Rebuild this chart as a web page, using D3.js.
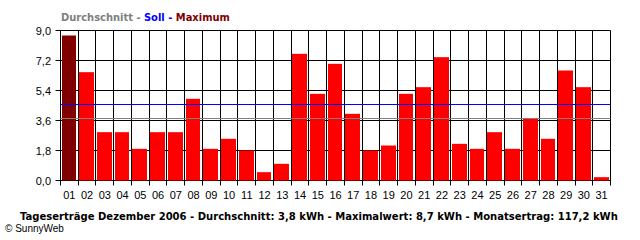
<!DOCTYPE html>
<html><head><meta charset="utf-8">
<script src="https://cdn.jsdelivr.net/npm/d3@7"></script>
<style>body{margin:0;background:#fff;}svg{display:block;}</style>
</head><body>
<script>
const days = ["01","02","03","04","05","06","07","08","09","10","11","12","13","14","15","16","17","18","19","20","21","22","23","24","25","26","27","28","29","30","31"];
const values = [8.7,6.5,2.9,2.9,1.9,2.9,2.9,4.9,1.9,2.5,1.8,0.5,1.0,7.6,5.2,7.0,4.0,1.8,2.1,5.2,5.6,7.4,2.2,1.9,2.9,1.9,3.7,2.5,6.6,5.6,0.2];
const yTicks = [0, 1.8, 3.6, 5.4, 7.2, 9.0];
const avgValue = 3.78;
const sollValue = 4.6;
const legendItems = ["Durchschnitt", "Soll", "Maximum"];
const footer = "Tageserträge Dezember 2006 - Durchschnitt: 3,8 kWh - Maximalwert: 8,7 kWh - Monatsertrag: 117,2 kWh";

(function () {
const W = 640, H = 240;
const svg = d3.select("body").append("svg").attr("width", W).attr("height", H);
const mLeft = 60.5, mRight = 610.5, mTop = 30.5, mBottom = 180.5;

const xb = d3.scaleBand().domain(days).range([mLeft, mRight]);
const y = d3.scaleLinear().domain([0, 9]).range([mBottom, mTop]);

function fit(sel, target) {
  const s = +sel.attr("font-size");
  const w = sel.node().getComputedTextLength();
  sel.attr("font-size", (s * target / w).toFixed(2));
}

// grid horizontal
svg.append("g").selectAll("line").data(yTicks).join("line")
  .attr("x1", mLeft - 5).attr("x2", mRight)
  .attr("y1", d => y(d)).attr("y2", d => y(d))
  .attr("stroke", "#000").attr("stroke-width", 1);
// grid vertical (band boundaries)
const bounds = days.map(d => xb(d)).concat([mRight]);
svg.append("g").selectAll("line").data(bounds).join("line")
  .attr("x1", d => Math.round(d - 0.5) + 0.5).attr("x2", d => Math.round(d - 0.5) + 0.5)
  .attr("y1", mTop).attr("y2", mBottom + 5)
  .attr("stroke", "#000").attr("stroke-width", 1);

const maxV = d3.max(values);
svg.append("g").selectAll("rect").data(values).join("rect")
  .attr("x", (d, i) => Math.round(xb(days[i])) + 1)
  .attr("width", (d, i) => Math.round(xb(days[i]) + xb.bandwidth()) - Math.round(xb(days[i])) - 3)
  .attr("y", d => y(d))
  .attr("height", d => y(0) - y(d))
  .attr("fill", d => d === maxV ? "#800000" : "#ff0000");

// reference lines
svg.append("line").attr("x1", mLeft).attr("x2", mRight)
  .attr("y1", Math.round(y(sollValue)) + 0.5).attr("y2", Math.round(y(sollValue)) + 0.5)
  .attr("stroke", "#0000ff").attr("stroke-width", 1);
svg.append("line").attr("x1", mLeft).attr("x2", mRight)
  .attr("y1", Math.round(y(avgValue)) + 0.5).attr("y2", Math.round(y(avgValue)) + 0.5)
  .attr("stroke", "#808080").attr("stroke-width", 1);

// y labels
svg.append("g").selectAll("text").data(yTicks).join("text")
  .attr("x", 51).attr("y", d => y(d) + 4)
  .attr("text-anchor", "end")
  .attr("font-family", "Liberation Sans, Arial, sans-serif").attr("font-size", 11)
  .text(d => d3.format(".1f")(d).replace(".", ","));
// x labels
svg.append("g").selectAll("text").data(days).join("text")
  .attr("x", d => xb(d) + xb.bandwidth() / 2).attr("y", 199)
  .attr("text-anchor", "middle")
  .attr("font-family", "Liberation Sans, Arial, sans-serif").attr("font-size", 11)
  .text(d => d);

// legend
const leg = svg.append("text").attr("x", 61).attr("y", 21)
  .attr("font-family", "DejaVu Sans, Verdana, sans-serif").attr("font-weight", "bold").attr("font-size", 11.5);
leg.append("tspan").attr("fill", "#808080").text(legendItems[0] + " - ");
leg.append("tspan").attr("fill", "#0000ff").text(legendItems[1] + " - ");
leg.append("tspan").attr("fill", "#800000").text(legendItems[2]);
fit(leg, 169);

// footer
const ft = svg.append("text").attr("x", 20).attr("y", 220)
  .attr("font-family", "DejaVu Sans, Verdana, sans-serif").attr("font-weight", "bold").attr("font-size", 11)
  .text(footer);
fit(ft, 598);
svg.append("text").attr("x", 5).attr("y", 232)
  .attr("font-family", "Liberation Sans, Arial, sans-serif").attr("font-size", 10)
  .text("© SunnyWeb");
})();
</script>
</body></html>
